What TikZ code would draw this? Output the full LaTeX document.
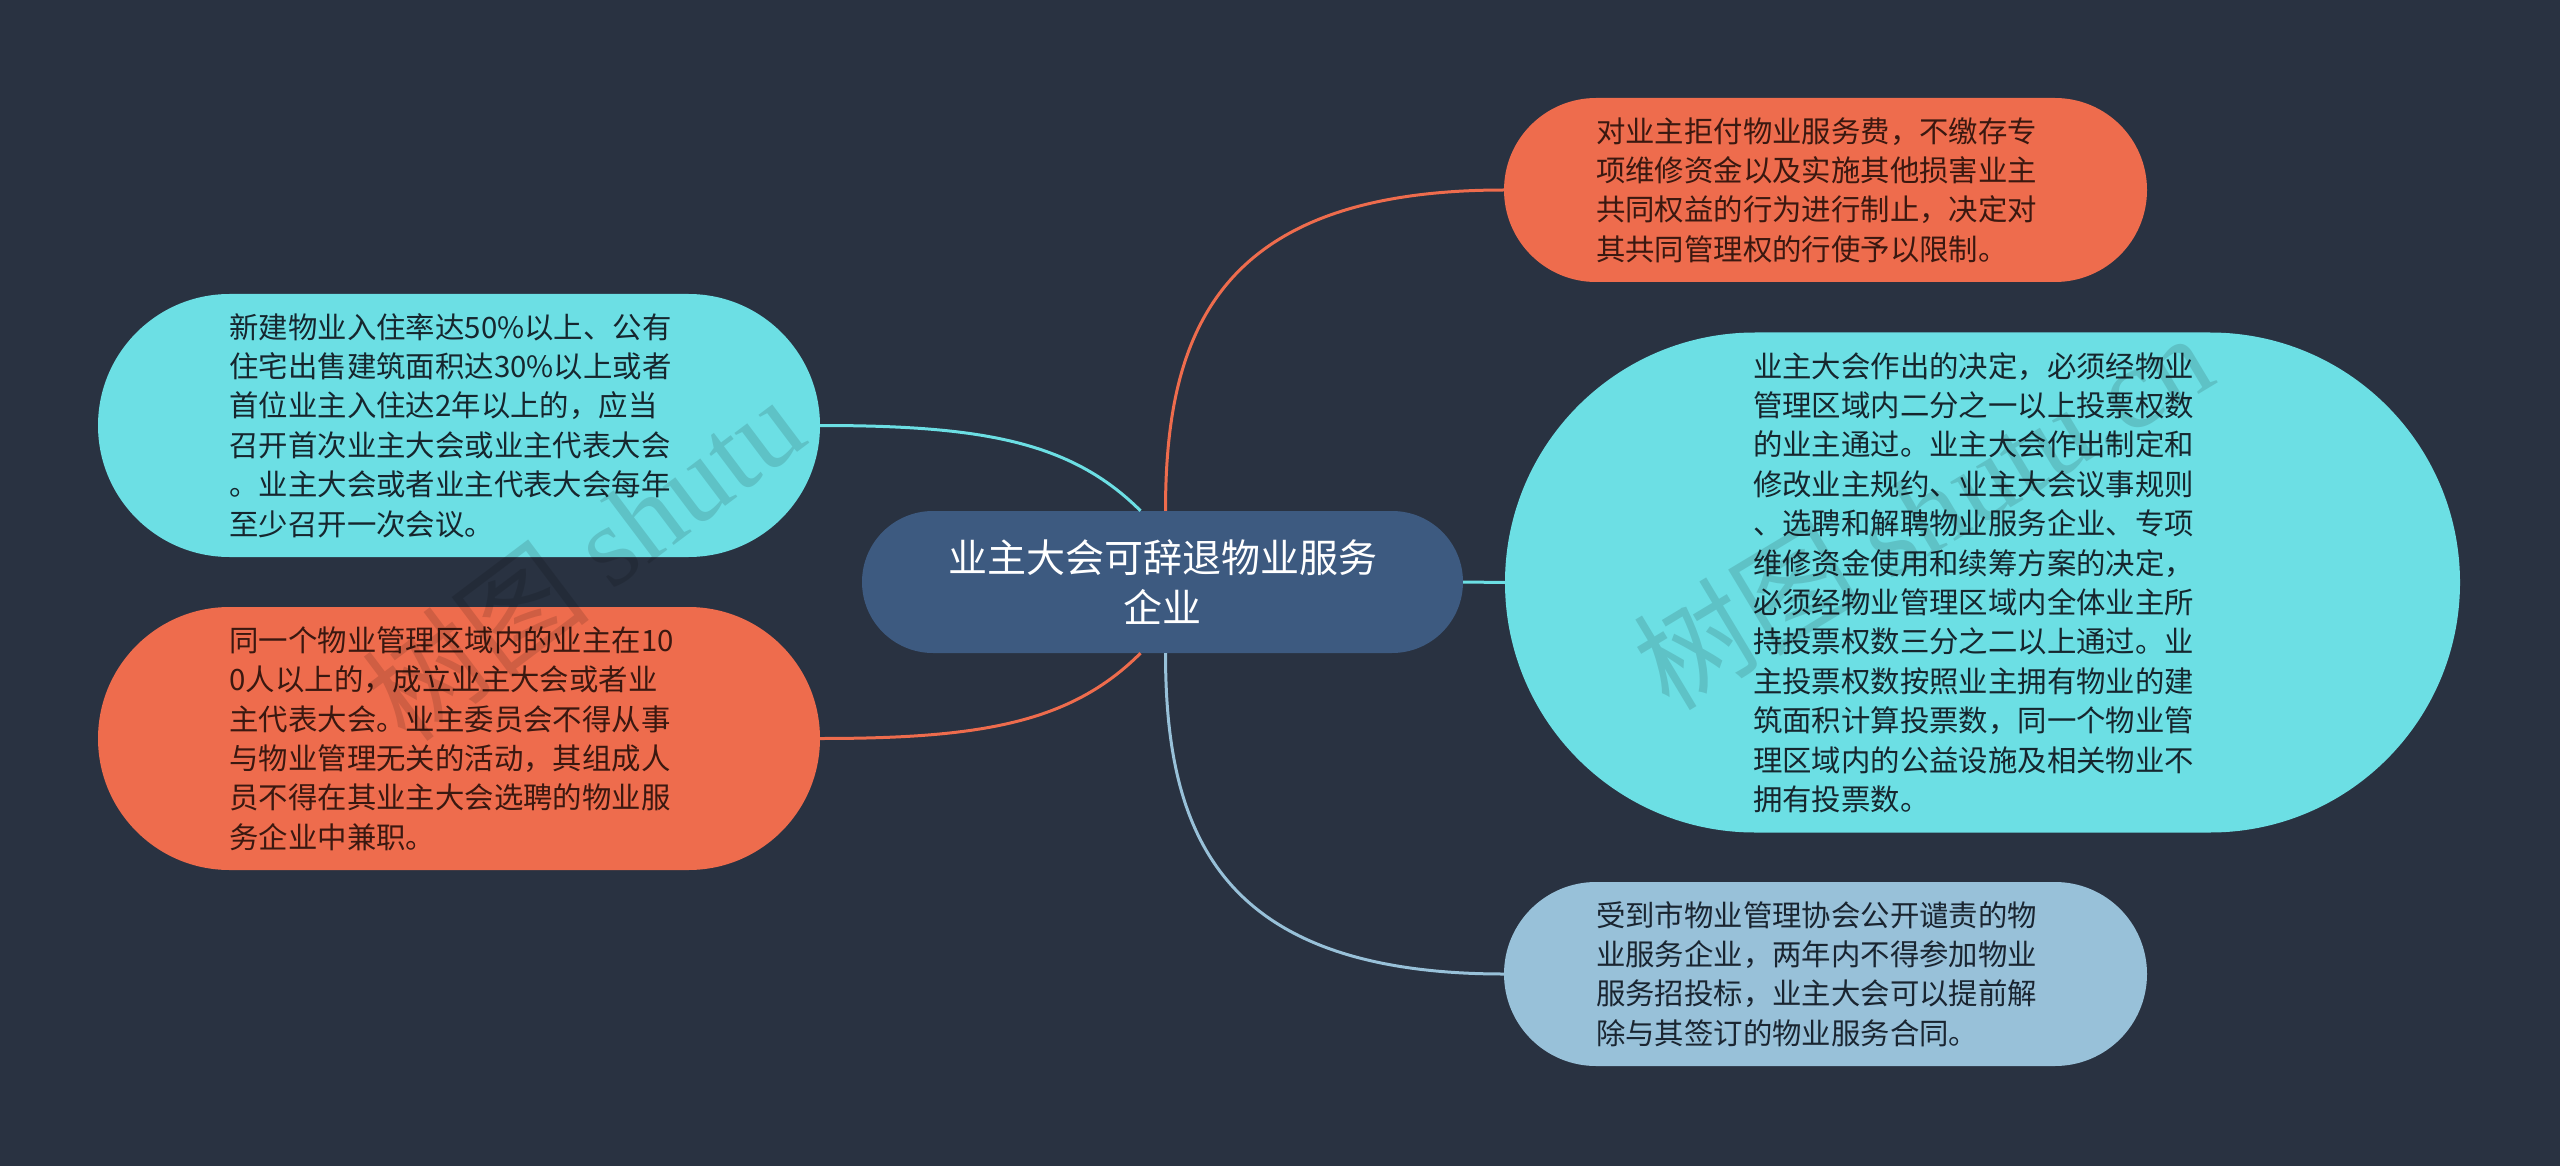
\documentclass[tikz,border=0pt]{standalone}
\usepackage{fontspec}
\newfontfamily\cjk{Noto Sans CJK SC}
\newfontfamily\wmserif{Liberation Serif}
\definecolor{bgc}{HTML}{293241}
\definecolor{centerc}{HTML}{3D5A80}
\definecolor{orangec}{HTML}{EE6C4D}
\definecolor{cyanc}{HTML}{6CDFE4}
\definecolor{lbluec}{HTML}{98C1D9}
\definecolor{txtcyan}{HTML}{16262E}
\definecolor{txtorange}{HTML}{3A1810}
\definecolor{txtblue}{HTML}{1A2531}
\begin{document}
\begin{tikzpicture}[x=1pt,y=-1pt,
  leaf/.style={inner sep=0pt, text width=459pt, align=left, font=\cjk\fontsize{29.4}{39.4}\selectfont},
  rootbox/.style={inner sep=0pt, align=center, fill=centerc, text=white, font=\cjk\fontsize{39}{50}\selectfont},
  conn/.style={line width=3pt},
  wmark/.style={text=black, opacity=0.13, inner sep=0pt}
]
\fill[bgc] (0,0) rectangle (2560,1166);
\useasboundingbox (0,0) rectangle (2560,1166);

\node[rootbox, minimum width=601, minimum height=142, rounded corners=71] (c) at (1162.5,582) {业主大会可辞退物业服务\\企业};

\node[leaf, fill=orangec, text=txtorange, minimum width=643, minimum height=184, rounded corners=92] (tr) at (1825.5,190)
 {对业主拒付物业服务费，不缴存专\\项维修资金以及实施其他损害业主\\共同权益的行为进行制止，决定对\\其共同管理权的行使予以限制。};

\node[leaf, fill=cyanc, text=txtcyan, minimum width=955, minimum height=500, rounded corners=250] (big) at (1982.5,582.5)
 {业主大会作出的决定，必须经物业\\管理区域内二分之一以上投票权数\\的业主通过。业主大会作出制定和\\修改业主规约、业主大会议事规则\\、选聘和解聘物业服务企业、专项\\维修资金使用和续筹方案的决定，\\必须经物业管理区域内全体业主所\\持投票权数三分之二以上通过。业\\主投票权数按照业主拥有物业的建\\筑面积计算投票数，同一个物业管\\理区域内的公益设施及相关物业不\\拥有投票数。};

\node[leaf, fill=lbluec, text=txtblue, minimum width=643, minimum height=184, rounded corners=92] (br) at (1825.5,974)
 {受到市物业管理协会公开谴责的物\\业服务企业，两年内不得参加物业\\服务招投标，业主大会可以提前解\\除与其签订的物业服务合同。};

\node[leaf, fill=cyanc, text=txtcyan, minimum width=722, minimum height=263, rounded corners=131.5] (lc) at (459,425.5)
 {新建物业入住率达50\%以上、公有\\住宅出售建筑面积达30\%以上或者\\首位业主入住达2年以上的，应当\\召开首次业主大会或业主代表大会\\。业主大会或者业主代表大会每年\\至少召开一次会议。};

\node[leaf, fill=orangec, text=txtorange, minimum width=722, minimum height=263, rounded corners=131.5] (lo) at (459,738.5)
 {同一个物业管理区域内的业主在10\\0人以上的，成立业主大会或者业\\主代表大会。业主委员会不得从事\\与物业管理无关的活动，其组成人\\员不得在其业主大会选聘的物业服\\务企业中兼职。};

\draw[conn, orangec] ([xshift=3pt]c.north) .. controls +(0,-181) and +(-284,0) .. (tr.west);
\draw[conn, cyanc] (c.east) -- (big.west);
\draw[conn, lbluec] ([xshift=3pt]c.south) .. controls +(0,181) and +(-284,0) .. (br.west);
\draw[conn, cyanc] ([xshift=-22pt]c.north) .. controls +(-70,-70) and +(160,0) .. (lc.east);
\draw[conn, orangec] ([xshift=-22pt]c.south) .. controls +(-70,70) and +(160,0) .. (lo.east);

\node[wmark, rotate=37] (wm1) at (583,559) {\cjk\fontsize{115}{115}\selectfont 树图 \wmserif shutu};
\node[wmark, rotate=31] (wm2) at (1922,510) {\cjk\fontsize{115}{115}\selectfont 树图 \wmserif shutu.cn};
\end{tikzpicture}
\end{document}
